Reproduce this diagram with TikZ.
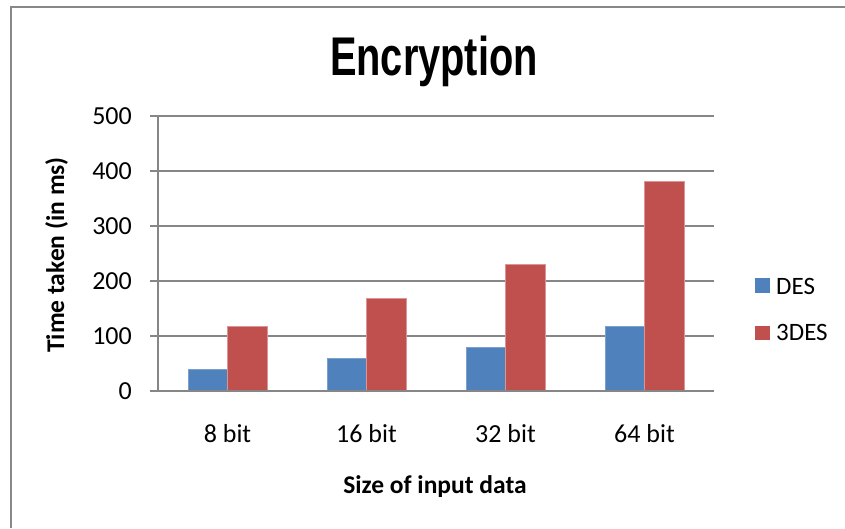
\documentclass[tikz,border=0pt]{standalone}
\usepackage{fontspec}
\setmainfont{Carlito}
\newfontfamily\titlefont{Liberation Sans}
\definecolor{desblue}{HTML}{4F81BD}
\definecolor{tdesred}{HTML}{C0504D}
\definecolor{axisgray}{HTML}{868686}
\definecolor{framegray}{HTML}{888888}
\begin{document}
\begin{tikzpicture}[x=1pt,y=1pt,
  gridline/.style={draw=axisgray, line width=1.6pt},
  desbar/.style={fill=desblue, draw=desblue!75!white, line width=0.6pt},
  tdesbar/.style={fill=tdesred, draw=tdesred!60!white, line width=0.6pt},
  ticklabel/.style={font=\fontsize{26}{30}\selectfont, anchor=east, inner sep=0pt},
  catlabel/.style={font=\fontsize{26}{30}\selectfont, anchor=base, inner sep=0pt},
  axistitle/.style={font=\fontsize{25.5}{30}\selectfont\bfseries, anchor=base, inner sep=0pt},
  legendtext/.style={font=\fontsize{25}{30}\selectfont, anchor=base west, inner sep=0pt}]
  \useasboundingbox (0,0) rectangle (845,528);

  % chart frame
  \draw[framegray, line width=2pt] (10.5,0) -- (10.5,521) -- (846,521);

  % title
  \node[font=\titlefont\fontsize{54.5}{60}\selectfont\bfseries, anchor=base,
        inner sep=0pt, xscale=0.73] (title) at (434,452) {Encryption};

  % horizontal gridlines with ticks and labels (value v at y = 137 + 0.55 v)
  \foreach \v/\nm in {100/a,200/b,300/c,400/d,500/e} {
    \draw[gridline] (150,{137+0.55*\v}) -- (714,{137+0.55*\v});
  }
  \foreach \v/\nm in {0/a,100/b,200/c,300/d,400/e,500/f} {
    \node[ticklabel] (tick\nm) at (132,{137+0.55*\v}) {\v};
  }

  % bars: DES and 3DES per data size
  \foreach \i/\d/\t in {0/39/118, 1/59/169, 2/80/231, 3/118/381} {
    \pgfmathsetmacro{\cx}{158+139*(\i+0.5)}
    \draw[desbar]  ({\cx-39.5},137) rectangle (\cx,{137+0.55*\d});
    \draw[tdesbar] (\cx,137) rectangle ({\cx+39.5},{137+0.55*\t});
  }

  % axes
  \draw[gridline] (150,137) -- (714,137);
  \draw[gridline] (158,137) -- (158,412);

  % category labels
  \node[catlabel] (c8)  at (227.5,86) {8 bit};
  \node[catlabel] (c16) at (366.5,86) {16 bit};
  \node[catlabel] (c32) at (505.5,86) {32 bit};
  \node[catlabel] (c64) at (644.5,86) {64 bit};

  % axis titles
  \node[axistitle] (xtitle) at (435,35) {Size of input data};
  \node[axistitle, rotate=90] (ytitle) at (64,273) {Time taken (in ms)};

  % legend
  \fill[desblue] (755,235) rectangle (770,250);
  \fill[tdesred] (755,188) rectangle (770,202);
  \node[legendtext] (ldes)  at (776,234) {DES};
  \node[legendtext] (l3des) at (776,188) {3DES};
\end{tikzpicture}
\end{document}
